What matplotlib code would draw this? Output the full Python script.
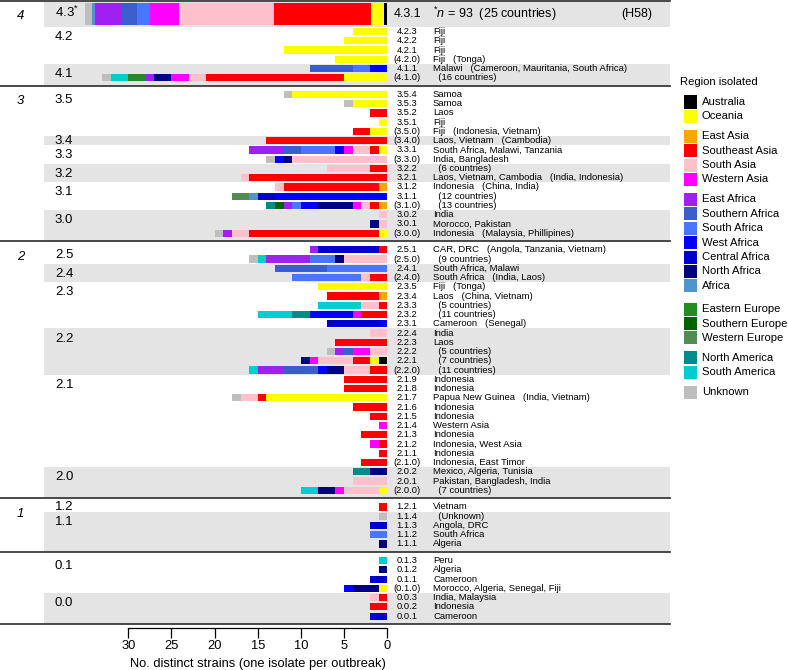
import matplotlib
matplotlib.use('Agg')
import matplotlib.pyplot as plt
from matplotlib import font_manager
from matplotlib.patches import Rectangle
from matplotlib.transforms import blended_transform_factory

plt.rcParams['font.family'] = ['Liberation Sans', 'DejaVu Sans']
plt.rcParams['mathtext.fontset'] = 'custom'
plt.rcParams['mathtext.rm'] = 'Liberation Sans'
plt.rcParams['mathtext.it'] = 'Liberation Sans:italic'

installed = {f.name for f in font_manager.fontManager.ttflist}
narrow = 'Liberation Sans Narrow' in installed
code_font = 'Liberation Sans Narrow' if narrow else 'Liberation Sans'
code_size = 7.9 if narrow else 6.7

# regions (legend order) and colours
region_keys = ['AU', 'OC', 'EAs', 'SEA', 'SAs', 'WAs', 'EAf', 'SoAf', 'SAf', 'WAf',
               'CAf', 'NAf', 'Af', 'EEu', 'SEu', 'WEu', 'NAm', 'SAm', 'Unk']
region_names = ['Australia', 'Oceania', 'East Asia', 'Southeast Asia', 'South Asia',
                'Western Asia', 'East Africa', 'Southern Africa', 'South Africa',
                'West Africa', 'Central Africa', 'North Africa', 'Africa',
                'Eastern Europe', 'Southern Europe', 'Western Europe',
                'North America', 'South America', 'Unknown']
region_colors = ['#000000', '#FFFF00', '#FFA500', '#FF0000', '#FFC0CB', '#FF00FF',
                 '#A020F0', '#3A5FCD', '#4876FF', '#0000FF', '#0000CD', '#000080',
                 '#4F94CD', '#228B22', '#006400', '#548B54', '#008B8B', '#00CDCD',
                 '#BEBEBE']
legend_groups = [2, 4, 7, 3, 2, 1]
color_of = dict(zip(region_keys, region_colors))

# H58 (4.3.1), n = 93 isolates, drawn compressed
h58_strains = [('AU', 1), ('OC', 4), ('SEA', 30), ('SAs', 29), ('WAs', 9), ('SAf', 4),
               ('SoAf', 5), ('EAf', 8), ('Af', 1), ('Unk', 2)]
h58_width = 35.0   # bar length on the strain axis

# rows: code, countries, strains per region (from 0 outward)
section4 = [
    ('4.3.1', '', h58_strains),
    ('4.2.3', 'Fiji', [('OC', 4)]),
    ('4.2.2', 'Fiji', [('OC', 5)]),
    ('4.2.1', 'Fiji', [('OC', 12)]),
    ('(4.2.0)', 'Fiji   (Tonga)', [('OC', 6)]),
    ('4.1.1', 'Malawi   (Cameroon, Mauritania, South Africa)', [('WAf', 2), ('SAf', 2), ('SoAf', 5)]),
    ('(4.1.0)', '  (16 countries)', [('OC', 5), ('SEA', 16), ('SAs', 2), ('WAs', 2), ('NAf', 2),
                                     ('EAf', 1), ('EEu', 2), ('SAm', 2), ('Unk', 1)]),
]
section3 = [
    ('3.5.4', 'Samoa', [('OC', 11), ('Unk', 1)]),
    ('3.5.3', 'Samoa', [('OC', 4), ('Unk', 1)]),
    ('3.5.2', 'Laos', [('SEA', 2)]),
    ('3.5.1', 'Fiji', [('OC', 1)]),
    ('(3.5.0)', 'Fiji   (Indonesia, Vietnam)', [('OC', 2), ('SEA', 2)]),
    ('(3.4.0)', 'Laos, Vietnam   (Cambodia)', [('SEA', 14)]),
    ('3.3.1', 'South Africa, Malawi, Tanzania', [('OC', 1), ('SEA', 1), ('SAs', 2), ('WAs', 1), ('WAf', 1),
                                                 ('SAf', 4), ('SoAf', 2), ('EAf', 4)]),
    ('(3.3.0)', 'India, Bangladesh', [('SAs', 11), ('NAf', 1), ('WAf', 1), ('Unk', 1)]),
    ('3.2.2', '  (6 countries)', [('SEA', 2), ('SAs', 5)]),
    ('3.2.1', 'Laos, Vietnam, Cambodia   (India, Indonesia)', [('SEA', 16), ('SAs', 1)]),
    ('3.1.2', 'Indonesia   (China, India)', [('EAs', 1), ('SEA', 11), ('SAs', 1)]),
    ('3.1.1', '  (12 countries)', [('WAf', 13), ('CAf', 2), ('Af', 1), ('WEu', 2)]),
    ('(3.1.0)', '  (13 countries)', [('EAs', 1), ('SEA', 1), ('SAs', 1), ('WAs', 1), ('NAf', 4), ('WAf', 2),
                                     ('SAf', 1), ('EAf', 1), ('SEu', 1), ('NAm', 1)]),
    ('3.0.2', 'India', [('SAs', 1)]),
    ('3.0.1', 'Morocco, Pakistan', [('SAs', 1), ('NAf', 1)]),
    ('(3.0.0)', 'Indonesia   (Malaysia, Phillipines)', [('OC', 1), ('SEA', 15), ('SAs', 2), ('EAf', 1), ('Unk', 1)]),
]
section2 = [
    ('2.5.1', 'CAR, DRC   (Angola, Tanzania, Vietnam)', [('SEA', 1), ('CAf', 7), ('EAf', 1)]),
    ('(2.5.0)', '  (9 countries)', [('SAs', 5), ('NAf', 1), ('SAf', 3), ('EAf', 5), ('SAm', 1), ('Unk', 1)]),
    ('2.4.1', 'South Africa, Malawi', [('SAf', 7), ('SoAf', 6)]),
    ('(2.4.0)', 'South Africa   (India, Laos)', [('SEA', 2), ('SAs', 1), ('SAf', 8)]),
    ('2.3.5', 'Fiji   (Tonga)', [('OC', 8)]),
    ('2.3.4', 'Laos   (China, Vietnam)', [('EAs', 1), ('SEA', 6)]),
    ('2.3.3', '  (5 countries)', [('SEA', 1), ('SAs', 2), ('SAm', 5)]),
    ('2.3.2', '  (11 countries)', [('SEA', 3), ('WAs', 1), ('WAf', 5), ('NAm', 2), ('SAm', 4)]),
    ('2.3.1', 'Cameroon   (Senegal)', [('WAf', 1), ('CAf', 6)]),
    ('2.2.4', 'India', [('SAs', 2)]),
    ('2.2.3', 'Laos', [('SEA', 6)]),
    ('2.2.2', '  (5 countries)', [('SAs', 2), ('WAs', 2), ('SoAf', 1), ('EAf', 1), ('Unk', 1)]),
    ('2.2.1', '  (7 countries)', [('AU', 1), ('OC', 1), ('SEA', 2), ('SAs', 4), ('WAs', 1), ('NAf', 1)]),
    ('(2.2.0)', '  (11 countries)', [('SEA', 2), ('SAs', 3), ('NAf', 2), ('WAf', 1), ('SoAf', 4),
                                     ('EAf', 3), ('SAm', 1)]),
    ('2.1.9', 'Indonesia', [('SEA', 5)]),
    ('2.1.8', 'Indonesia', [('SEA', 5)]),
    ('2.1.7', 'Papua New Guinea   (India, Vietnam)', [('OC', 14), ('SEA', 1), ('SAs', 2), ('Unk', 1)]),
    ('2.1.6', 'Indonesia', [('SEA', 4)]),
    ('2.1.5', 'Indonesia', [('SEA', 2)]),
    ('2.1.4', 'Western Asia', [('WAs', 1)]),
    ('2.1.3', 'Indonesia', [('SEA', 3)]),
    ('2.1.2', 'Indonesia, West Asia', [('SEA', 1), ('WAs', 1)]),
    ('2.1.1', 'Indonesia', [('SEA', 1)]),
    ('(2.1.0)', 'Indonesia, East Timor', [('SEA', 3)]),
    ('2.0.2', 'Mexico, Algeria, Tunisia', [('NAf', 2), ('NAm', 2)]),
    ('2.0.1', 'Pakistan, Bangladesh, India', [('SAs', 4)]),
    ('(2.0.0)', '  (7 countries)', [('OC', 1), ('SAs', 4), ('WAs', 1), ('NAf', 2), ('SAm', 2)]),
]
section1 = [
    ('1.2.1', 'Vietnam', [('SEA', 1)]),
    ('1.1.4', '  (Unknown)', [('Unk', 1)]),
    ('1.1.3', 'Angola, DRC', [('CAf', 2)]),
    ('1.1.2', 'South Africa', [('SAf', 2)]),
    ('1.1.1', 'Algeria', [('NAf', 1)]),
]
section0 = [
    ('0.1.3', 'Peru', [('SAm', 1)]),
    ('0.1.2', 'Algeria', [('NAf', 1)]),
    ('0.1.1', 'Cameroon', [('CAf', 2)]),
    ('(0.1.0)', 'Morocco, Algeria, Senegal, Fiji', [('OC', 1), ('NAf', 3), ('WAf', 1)]),
    ('0.0.3', 'India, Malaysia', [('SEA', 1), ('SAs', 1)]),
    ('0.0.2', 'Indonesia', [('SEA', 2)]),
    ('0.0.1', 'Cameroon', [('CAf', 2)]),
]
sections = [('4', section4), ('3', section3), ('2', section2), ('1', section1), ('', section0)]

# layout (row units)
tall_h = 2.8
pad_top, pad_bot = 0.45, 0.35
band_color = '#e4e4e4'
line_color = '#3a3a3a'
x_left, x_right = 44.86, -32.75
x_band_start = 39.8      # strain-axis value where grey bands start
x_code, x_place = -2.3, -5.3

fig = plt.figure(figsize=(7.88, 6.7), dpi=100)
ax = fig.add_axes([0, 1 - 624 / 670, 670 / 788, 623 / 670])
band_xmin = (x_left - x_band_start) / (x_left - x_right)

y = 0.0
lines = [0.0]
for si, (sec_name, rows) in enumerate(sections):
    sec_top = y
    if si > 0:
        y += pad_top
    placed = []
    for code, place, segs in rows:
        h = tall_h if code == '4.3.1' else 1.0
        placed.append((y + h / 2, h, code, place, segs))
        y += h
    y += pad_bot
    sec_bot = y
    lines.append(y)

    # subgroups
    groups = []
    for r in placed:
        key = r[2].strip('()')[:3]
        if not groups or groups[-1][0] != key:
            groups.append([key, []])
        groups[-1][1].append(r)
    ng = len(groups)
    for gi, (key, grows) in enumerate(groups):
        top = sec_top if gi == 0 else grows[0][0] - grows[0][1] / 2
        bot = sec_bot if gi == ng - 1 else grows[-1][0] + grows[-1][1] / 2
        if (ng - 1 - gi) % 2 == 0:
            ax.axhspan(top, bot, xmin=band_xmin, xmax=1, color=band_color, lw=0, zorder=0)
        yc0, h0 = grows[0][0], grows[0][1]
        if h0 > 1:
            ax.text(38.5, yc0 - 0.2, key + r'$^{*}$', fontsize=9.5, ha='left', va='center')
        else:
            dy = 0.6 if len(grows) > 1 else 0.0
            ax.text(38.5, yc0 + dy, key, fontsize=9.5, ha='left', va='center')

    yc0, h0 = placed[0][0], placed[0][1]
    if sec_name:
        ax.text(42.5, yc0 + (0.2 if h0 > 1 else 0.75), sec_name, fontsize=9.5,
                style='italic', ha='center', va='center')

    for yc, h, code, place, segs in placed:
        left = 0.0
        if h > 1:
            total = sum(n for _, n in segs)
            scale = h58_width / total
            bh = 2.4
        else:
            scale = 1.0
            bh = 0.78
        for key, n in segs:
            ax.barh(yc, n * scale, left=left, height=bh, color=color_of[key], lw=0, zorder=2)
            left += n * scale
        if h > 1:
            ax.text(x_code, yc, code, fontsize=9, ha='center', va='center', family=code_font)
            ax.text(x_place, yc, r'$^{*}\mathit{n}$ = 93  (25 countries)', fontsize=9,
                    ha='left', va='center')
            ax.text(-27.1, yc, '(H58)', fontsize=9, ha='left', va='center')
        else:
            ax.text(x_code, yc, code, fontsize=code_size, ha='center', va='center',
                    family=code_font)
            ax.text(x_place, yc, place, fontsize=6.8, ha='left', va='center')

for ly in lines:
    ax.axhline(ly, color=line_color, lw=1.3, clip_on=False, zorder=3)

ax.set_xlim(x_left, x_right)
ax.set_ylim(y, 0)
for s in ['top', 'left', 'right']:
    ax.spines[s].set_visible(False)
ax.spines['bottom'].set_bounds(0, 30)
ax.spines['bottom'].set_position(('outward', 3))
ax.spines['bottom'].set_linewidth(0.9)
ax.set_xticks(range(0, 31, 5))
ax.set_yticks([])
ax.tick_params(axis='x', direction='out', length=7, width=0.9, pad=1.5, labelsize=9.3)
ax.set_xlabel('No. distinct strains (one isolate per outbreak)', fontsize=9.3)
ax.xaxis.set_label_coords(15, -0.054, transform=blended_transform_factory(ax.transData, ax.transAxes))
ax.patch.set_visible(False)

# legend
def fx(px):
    return px / 788

def fy(py):
    return 1 - py / 670

fig.text(fx(680), fy(82), 'Region isolated', fontsize=8.1, ha='left', va='center')
yl = 102.0
gaps = [5.5, 5.5, 9.0, 5.5, 5.5]
i = 0
for gi, gsize in enumerate(legend_groups):
    for _ in range(gsize):
        fig.add_artist(Rectangle((fx(684), fy(yl + 6.5)), 13 / 788, 13 / 670,
                                 color=region_colors[i], lw=0, transform=fig.transFigure))
        fig.text(fx(702), fy(yl), region_names[i], fontsize=8.1, ha='left', va='center')
        yl += 14.4
        i += 1
    if gi < len(gaps):
        yl += gaps[gi]

fig.savefig('out.png', dpi=100)
